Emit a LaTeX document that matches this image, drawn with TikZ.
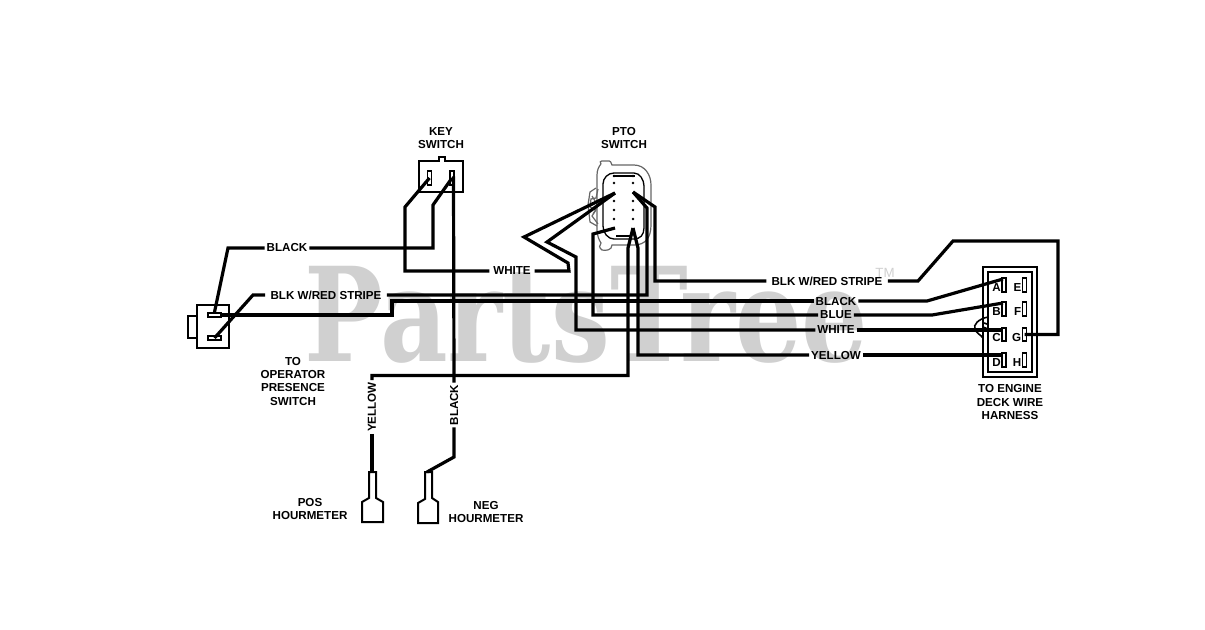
\documentclass[tikz,border=0pt]{standalone}
\usepackage{fontspec}
\setmainfont{Liberation Sans}
\newfontfamily\wmfont{DejaVu Serif}
\definecolor{wm}{HTML}{D0D0D0}
\tikzset{
 x=0.75pt,y=-0.75pt,
 wire/.style={line width=2.4pt,line join=miter},
 slot/.style={line width=1.3pt,fill=white},
 lbl/.style={font=\bfseries\fontsize{8.7}{10}\selectfont,inner sep=1.5pt,outer sep=0pt,align=center},
 pinlbl/.style={font=\bfseries\fontsize{8.7}{10}\selectfont,inner sep=0pt},
 grayline/.style={line width=0.9pt,draw=black!60},
}
\begin{document}
\begin{tikzpicture}
\useasboundingbox (0,0) rectangle (1205,629);
% watermark
\node[anchor=base west,inner sep=0pt,text=wm,font=\wmfont\bfseries\fontsize{98}{98}\selectfont,xscale=0.8] (wmark) at (304,361) {PartsTree};
\node[text=wm,font=\fontsize{10}{10}\selectfont,inner sep=0pt] (tm) at (885,273) {TM};
% texts
\node[lbl] (keyt) at (441,138) {KEY\\SWITCH};
\node[lbl] (ptot) at (624,138) {PTO\\SWITCH};
\node[lbl] (opt) at (293,381) {TO\\OPERATOR\\PRESENCE\\SWITCH};
\node[lbl] (eng) at (1010,402) {TO ENGINE\\DECK WIRE\\HARNESS};
\node[lbl] (pos) at (310,509) {POS\\HOURMETER};
\node[lbl] (neg) at (486,512) {NEG\\HOURMETER};
% wire labels
\node[lbl] (lblack) at (287,248) {BLACK};
\node[lbl,inner sep=4pt] (lstripe) at (326,295) {BLK W/RED STRIPE};
\node[lbl,inner sep=3pt] (lwhite) at (512,271) {WHITE};
\node[lbl,inner sep=4pt] (rstripe) at (827,281) {BLK W/RED STRIPE};
\node[lbl] (rblack) at (836,301) {BLACK};
\node[lbl] (rblue) at (836,315) {BLUE};
\node[lbl] (rwhite) at (836,330) {WHITE};
\node[lbl] (ryellow) at (836,355) {YELLOW};
\node[lbl,rotate=90] (vyellow) at (372,407) {YELLOW};
\node[lbl,rotate=90] (vblack) at (454,405) {BLACK};
% left connector
\draw[line width=1.5pt] (197,316) -- (188,316) -- (188,338) -- (197,338);
\draw[line width=1.5pt] (197,305) rectangle (229,348);
\node[draw,slot,minimum width=10pt,minimum height=3pt,inner sep=0pt] (lc1) at (214.5,315) {};
\node[draw,slot,minimum width=10pt,minimum height=3pt,inner sep=0pt] (lc2) at (214.5,338) {};
% key switch
\draw[line width=1.5pt] (419,161) -- (439,161) -- (439,157) -- (445,157) -- (445,161) -- (463,161) -- (463,192) -- (419,192) -- cycle;
\node[draw,slot,minimum width=3pt,minimum height=10pt,inner sep=0pt] (k1) at (429.5,178) {};
\node[draw,slot,minimum width=3pt,minimum height=10pt,inner sep=0pt] (k2) at (452,178) {};
% PTO switch
\draw[grayline] (601,164) .. controls (598,160) and (604,161) .. (607,161) .. controls (610,160) and (612,163) .. (612,165) -- (634,165) .. controls (645,165) and (651,175) .. (651,185) -- (651,225) .. controls (651,238) and (645,245) .. (634,245) -- (612,245) .. controls (612,250) and (606,251) .. (602,250) .. controls (599,248) and (599,245) .. (601,243) .. controls (599,240) and (597,236) .. (597,228) -- (597,175) .. controls (597,170) and (599,166) .. (601,164);
\draw[grayline] (596,188) -- (590,192) -- (588,205) -- (590,222) -- (597,226);
\draw[grayline] (598,189) -- (596,198) -- (591,199) -- (590,207) -- (596,210) -- (592,216) -- (598,224);
\draw[grayline] (592,196) -- (598,206) -- (593,214);
\draw[line width=1pt,fill=white] (614,173) -- (634,173) .. controls (640,173) and (644,180) .. (644,186) -- (644,228) .. controls (644,235) and (640,239) .. (634,239) -- (614,239) .. controls (608,239) and (603,233) .. (603,226) -- (603,184) .. controls (603,178) and (608,173) .. (614,173) -- cycle;
\draw[line width=1pt] (613,176) -- (635,176) (616,236) -- (632,236);
\foreach \px in {614,633}{\foreach \py in {176,183,201,210,219}{\fill (\px,\py) circle (1.3);}}
% right connector
\draw[line width=1.5pt] (983,267) rectangle (1037,377);
\draw[line width=1.5pt] (988,272) rectangle (1032,372);
\foreach \nm/\lt/\sx/\py in {a/A/1004/285,b/B/1004/309,c/C/1004/334.5,d/D/1004/360,e/E/1024.5/285,f/F/1024.5/309,g/G/1024.5/334.5,h/H/1024.5/360}{
 \node[draw,slot,minimum width=3pt,minimum height=10pt,inner sep=0pt] (p\nm) at (\sx,\py) {};
 \node[pinlbl,anchor=east] (t\nm) at (\sx-3,\py+3) {\lt};
}
\draw[line width=1.2pt] (988,317) .. controls (978,319) and (973,325) .. (975,329) .. controls (976,333) and (981,335) .. (983,338);
\draw[line width=1.2pt] (984,323) -- (987,324) (983,327) -- (988,329);
% coordinates of pins
\coordinate (ptoa) at (615,193);
\coordinate (ptob) at (615,228);
\coordinate (ptoc) at (633,228);
\coordinate (ptod) at (633,192);
\coordinate (enda) at (1003,279);
\coordinate (endb) at (1003,303);
\coordinate (endc) at (1003,330);
\coordinate (endd) at (1003,355);
% wires
\draw[wire] (lc1.north) -- (228,248) -- (lblack.west);
\draw[wire] (lblack.east) -- (433,248) -- (433,205) -- (k2.center);
\draw[wire] (lc2.center) -- (253,295) -- (lstripe.west);
\draw[wire] (lstripe.east) -- (647,295) -- (647,208) -- (ptod);
\draw[wire] (lc1.east) -- (392,315) -- (392,301) -- (rblack.west);
\draw[wire] (k1.center) -- (405,207) -- (405,271) -- (lwhite.west);
\draw[wire] (lwhite.east) -- (569,271) -- (568,263) -- (524,237) -- (ptoa);
\draw[wire] (ptoa) -- (547,242) -- (576,257) -- (576,330) -- (rwhite.west);
\draw[wire] (ptob) -- (593,234) -- (593,315) -- (rblue.west);
\draw[wire] (ptoc) -- (628,248) -- (628,375.5) -- (372,375.5) -- (vyellow.east);
\draw[wire] (ptoc) -- (638,248) -- (638,355) -- (ryellow.west);
\draw[wire] (ptod) -- (655,207) -- (655,281) -- (rstripe.west);
\draw[wire] (rstripe.east) -- (918,281) -- (953,241) -- (1058,241) -- (1058,334.5) -- (pg.center);
\draw[wire] (rblack.east) -- (927,301) -- (enda);
\draw[wire] (rblue.east) -- (932,315) -- (endb);
\draw[wire] (rwhite.east) -- (endc);
\draw[wire] (ryellow.east) -- (endd);
\draw[wire] (k2.center) -- (453.5,178) -- (vblack.east);
% terminals
\draw[line width=1.5pt,fill=white] (369,472) -- (376,472) -- (376,498) -- (383,502) -- (383,522) -- (362,522) -- (362,502) -- (369,498) -- cycle;
\draw[line width=1.5pt,fill=white] (425,472) -- (432,472) -- (432,498) -- (438,502) -- (438,523) -- (418,523) -- (418,503) -- (425,499) -- cycle;
\coordinate (posT) at (372,472);
\coordinate (negT) at (427,472);
\draw[wire] (vyellow.west) -- (posT);
\draw[wire] (vblack.west) -- (454,457) -- (negT);
\end{tikzpicture}
\end{document}
